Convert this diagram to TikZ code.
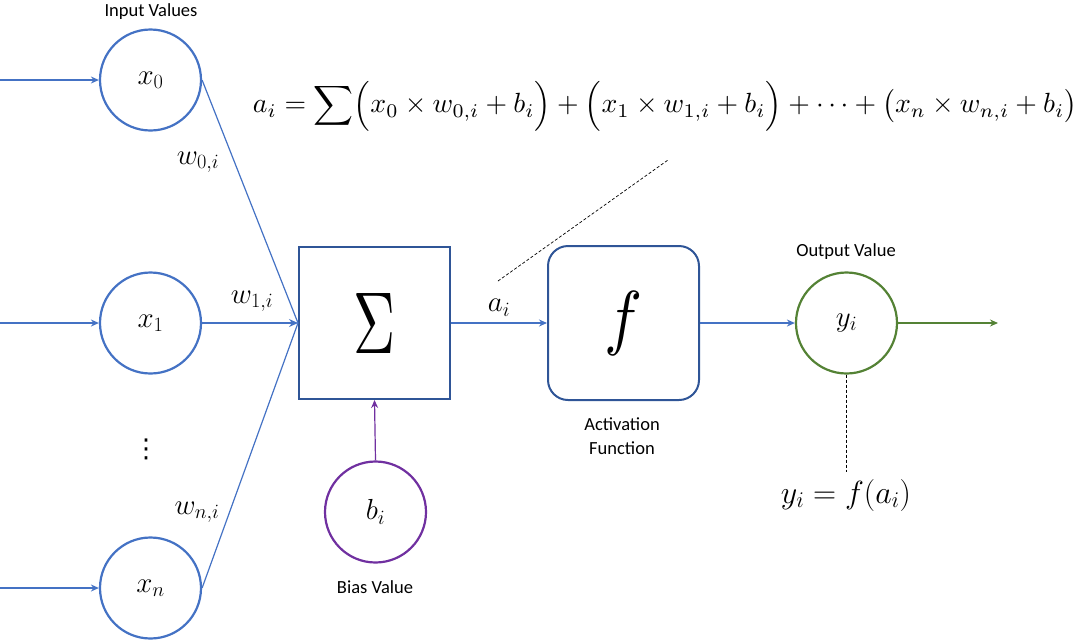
\RequirePackage{fix-cm}
\documentclass[tikz,border=0pt]{standalone}
\usepackage{fontspec}
\setmainfont{Carlito}
\newfontfamily\dejavu{DejaVu Sans}
\usetikzlibrary{arrows.meta}
\definecolor{cblue}{HTML}{4472C4}
\definecolor{bblue}{HTML}{2F5597}
\definecolor{cgreen}{HTML}{548235}
\definecolor{cpurple}{HTML}{7030A0}
\tikzset{
  neuron/.style={circle, draw=cblue, line width=2.2pt, minimum size=101pt, inner sep=0pt, font=\fontsize{29}{34}\selectfont},
  sumbox/.style={draw=bblue, line width=2pt, minimum width=151pt, minimum height=152pt, inner sep=0pt},
  fbox/.style={draw=bblue, line width=2pt, rounded corners=20pt, minimum width=151pt, minimum height=154pt, inner sep=0pt},
  lbl/.style={font=\fontsize{18.5}{24}\selectfont, align=center},
  mlbl/.style={font=\fontsize{29}{34}\selectfont, inner sep=0pt},
  inarrow/.style={draw=cblue, line width=1.8pt, -{Stealth[length=8pt,width=7pt]}},
  wline/.style={draw=cblue, line width=1.2pt},
  note/.style={draw=black, line width=0.7pt, dash pattern=on 3pt off 2pt}
}
\begin{document}
\begin{tikzpicture}[x=1pt,y=-1pt]
\useasboundingbox (0,0) rectangle (1080,641);
% input neurons
\node[neuron] (x0) at (150.5,80) {$x_0$};
\node[neuron] (x1) at (150.5,323) {$x_1$};
\node[neuron] (xn) at (150.5,588) {$x_n$};
\node[lbl] (inlbl) at (151,12) {Input Values};
\node[font=\dejavu\fontsize{26}{30}\selectfont, inner sep=0pt] (dots) at (146,449) {⋮};
% input arrows
\coordinate (in0) at (0,80);
\coordinate (in1) at (0,323);
\coordinate (inn) at (0,588);
\draw[inarrow] (in0) -- (x0.west);
\draw[inarrow] (in1) -- (x1.west);
\draw[inarrow] (inn) -- (xn.west);
% sum box
\node[sumbox] (sum) at (374.5,323) {\resizebox{42pt}{60pt}{$\Sigma$}};
% weights
\draw[wline] (x0.east) -- (sum.west);
\draw[wline] (xn.east) -- (sum.west);
\draw[wline, -{Stealth[length=9pt,width=8pt]}] (x1.east) -- (sum.west);
\node[mlbl] (w0) at (198,162) {$w_{0,i}$};
\node[mlbl] (w1) at (252,301) {$w_{1,i}$};
\node[mlbl] (wn) at (197,512) {$w_{n,i}$};
% bias
\node[neuron, draw=cpurple] (b) at (375.5,512) {$b_i$};
\node[lbl] (blbl) at (375,587) {Bias Value};
\draw[draw=cpurple, line width=1.2pt, -{Stealth[length=8pt,width=7pt]}] (b.north) -- (sum.south);
% activation
\node[fbox] (f) at (623.5,323) {\resizebox*{38pt}{64pt}{$f$}};
\node[lbl] (flbl) at (622,436) {Activation\\Function};
\draw[inarrow] (sum.east) -- node[mlbl, above=6pt] (ai) {$a_i$} (f.west);
% output
\node[neuron, draw=cgreen] (y) at (846.5,323) {$y_i$};
\node[lbl] (ylbl) at (846,252) {Output Value};
\draw[inarrow] (f.east) -- (y.west);
\coordinate (out) at (998,323);
\draw[draw=cgreen, line width=1.8pt, -{Stealth[length=8pt,width=7pt]}] (y.east) -- (out);
\coordinate (ynote) at (846.5,472);
\draw[note] (y.south) -- (ynote);
\node[font=\fontsize{32}{38}\selectfont] (yeq) at (846,495) {$y_i = f(a_i)$};
% formula
\node[inner sep=0pt] (formula) at (665,106) {\resizebox{824pt}{!}{$a_i = \displaystyle\sum \Bigl(x_0 \times w_{0,i} + b_i\Bigr) + \Bigl(x_1 \times w_{1,i} + b_i\Bigr) + \cdots + \bigl(x_n \times w_{n,i} + b_i\bigr)$}};
\coordinate (fa) at (498,281);
\coordinate (fb) at (668,160);
\draw[note] (fa) -- (fb);
\end{tikzpicture}
\end{document}
